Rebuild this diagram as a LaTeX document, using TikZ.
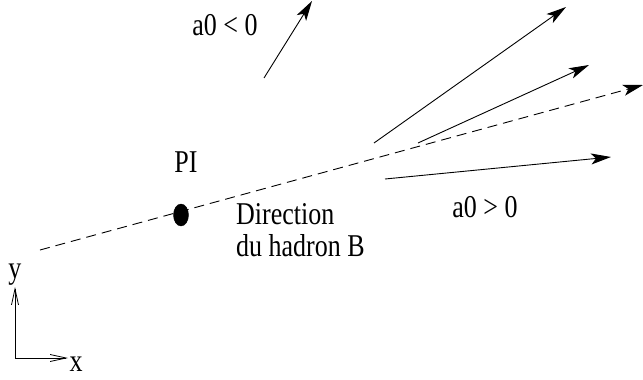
\documentclass[tikz,border=0pt]{standalone}
\usepackage{fontspec}
\usepackage{graphicx}
\setmainfont{Liberation Serif}
\usetikzlibrary{arrows.meta,shapes.geometric}
\newcommand{\tallt}[1]{\scalebox{1}[1.22]{#1}}
\begin{document}
\begin{tikzpicture}[x=1pt,y=-1pt,
  lbl/.style={inner sep=0pt,font=\fontsize{26}{28}\selectfont},
  vec/.style={line width=0.9pt,-{Stealth[length=20pt,width=11pt,inset=5pt]}},
  axis/.style={line width=0.8pt,-{Straight Barb[length=16pt,width=7pt]}}]
\useasboundingbox (0,0) rectangle (643,380);
% dashed direction
\coordinate (d0) at (40,250);
\coordinate (d1) at (643,85);
\draw[vec,dash pattern=on 10pt off 6pt] (d0) -- (d1);
% primary vertex
\node[draw,fill=black,ellipse,minimum width=15pt,minimum height=22pt,inner sep=0pt] (pv) at (181,215) {};
\node[lbl] (pi) at (186,162) {\tallt{PI}};
% a0<0 vector
\coordinate (n0) at (264,78);
\coordinate (n1) at (312,1);
\draw[vec] (n0) -- (n1);
\node[lbl] (lneg) at (225,25) {\tallt{a0 < 0}};
% a0>0 vectors
\coordinate (p10) at (374,143);
\coordinate (p11) at (566,7);
\draw[vec] (p10) -- (p11);
\coordinate (p20) at (418,143);
\coordinate (p21) at (589,65);
\draw[vec] (p20) -- (p21);
\coordinate (p30) at (385,179);
\coordinate (p31) at (611,157);
\draw[vec] (p30) -- (p31);
\node[lbl] (lpos) at (485,207) {\tallt{a0 > 0}};
% labels
\node[lbl,anchor=west] (dir) at (236,214) {\tallt{Direction}};
\node[lbl,anchor=west] (had) at (236,246) {\tallt{du hadron B}};
% axes
\coordinate (o) at (15,358);
\coordinate (ay) at (15,287);
\coordinate (ax) at (68,358);
\draw[axis] (o) -- (ay);
\draw[axis] (o) -- (ax);
\node[lbl] (ly) at (15,275) {\tallt{y}};
\node[lbl] (lx) at (76,364) {\tallt{x}};
\end{tikzpicture}
\end{document}
